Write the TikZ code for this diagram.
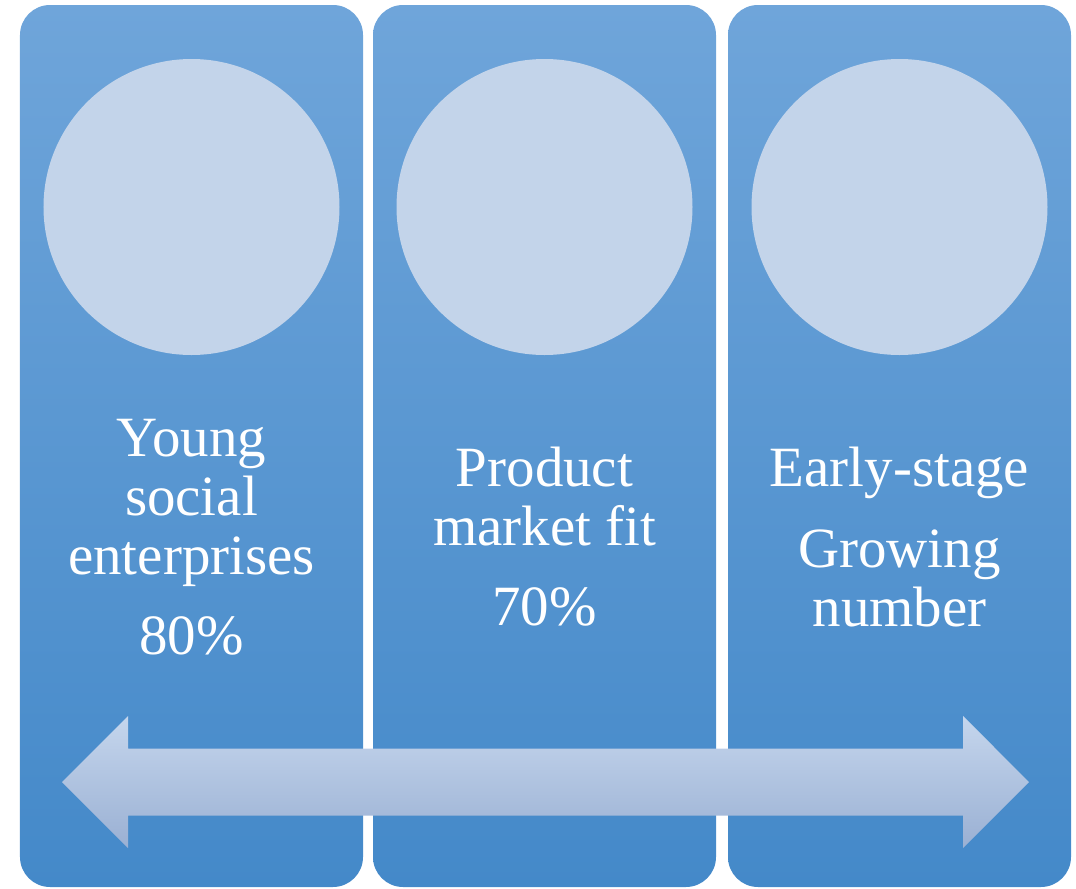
\documentclass[tikz,border=0pt]{standalone}
\usepackage{fontspec}
\setmainfont{Liberation Serif}
\usepackage{tikz}
\definecolor{paneltop}{RGB}{111,165,218}
\definecolor{panelbot}{RGB}{68,137,201}
\definecolor{disccol}{RGB}{195,212,234}
\definecolor{arrowtop}{RGB}{197,214,237}
\definecolor{arrowbot}{RGB}{154,176,211}
\tikzstyle{panel}=[rectangle, rounded corners=0.3cm, minimum width=3.43cm, minimum height=8.82cm, inner sep=0pt, top color=paneltop, bottom color=panelbot]
\tikzstyle{disc}=[circle, fill=disccol, inner sep=0pt, minimum size=2.96cm]
\tikzstyle{labelsty}=[text=white, align=center, font=\fontsize{16.2}{16.8}\selectfont]

\begin{document}
\begin{tikzpicture}
	\useasboundingbox (0,0) rectangle (10.76,8.88);

	% three columns
	\node[panel] (p1) at (1.915,4.42) {};
	\node[panel] (p2) at (5.445,4.42) {};
	\node[panel] (p3) at (8.995,4.42) {};

	% discs on top
	\node[disc] (c1) at (1.915,6.81) {};
	\node[disc] (c2) at (5.445,6.81) {};
	\node[disc] (c3) at (8.995,6.81) {};

	% texts
	\node[labelsty] (t1) at (1.915,3.51) {Young\\social\\enterprises\\[6pt]80\%};
	\node[labelsty] (t2) at (5.445,3.51) {Product\\market fit\\[6pt]70\%};
	\node[labelsty] (t3) at (8.995,3.51) {Early-stage\\[6pt]Growing\\number};

	% double arrow across the bottom
	\shade[top color=arrowtop, bottom color=arrowbot]
		(0.62,1.06) -- (1.28,1.72) -- (1.28,1.395) -- (9.63,1.395) -- (9.63,1.72)
		-- (10.29,1.06) -- (9.63,0.40) -- (9.63,0.725) -- (1.28,0.725) -- (1.28,0.40) -- cycle;

\end{tikzpicture}
\end{document}
